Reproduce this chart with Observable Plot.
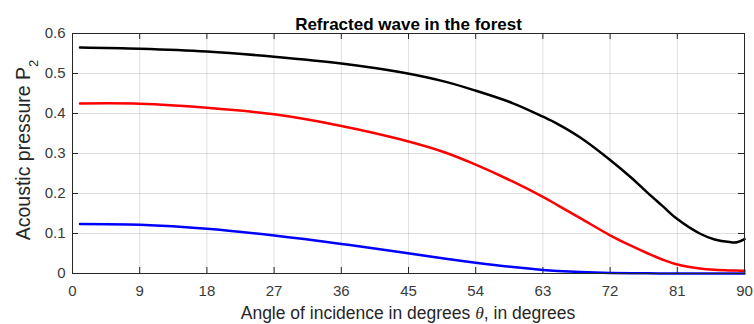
<!DOCTYPE html>
<html>
<head>
<meta charset="utf-8">
<script src="https://cdn.jsdelivr.net/npm/d3@7"></script>
<script src="https://cdn.jsdelivr.net/npm/@observablehq/plot@0.6"></script>
<style>
  html, body { margin: 0; padding: 0; background: #fff; overflow: hidden; }
</style>
</head>
<body>
<div id="chart"></div>
<script>
const title = "Refracted wave in the forest";
const xLabelParts = ["Angle of incidence in degrees ", "θ", ", in degrees"];
const yLabelParts = ["Acoustic pressure P", "2"];

const xTicks = [0, 9, 18, 27, 36, 45, 54, 63, 72, 81, 90];
const yTicks = [0, 0.1, 0.2, 0.3, 0.4, 0.5, 0.6];

const angles = [1, 9, 18, 27, 36, 44, 50, 54, 59, 63, 65, 68, 72, 75, 77, 79, 81, 84, 86, 88, 89, 90];
const blackSeries = [0.565, 0.562, 0.555, 0.542, 0.525, 0.503, 0.479, 0.457, 0.4255, 0.392, 0.3735, 0.340, 0.284, 0.237, 0.202, 0.169, 0.136, 0.100, 0.085, 0.0785, 0.078, 0.086];
const redSeries   = [0.425, 0.4245, 0.4145, 0.398, 0.369, 0.335, 0.302, 0.272, 0.2295, 0.1915, 0.1705, 0.1385, 0.0955, 0.0676, 0.0506, 0.035, 0.0226, 0.0127, 0.0091, 0.0075, 0.0072, 0.007];
const blueSeries  = [0.124, 0.122, 0.112, 0.095, 0.074, 0.053, 0.037, 0.027, 0.016, 0.009, 0.0065, 0.0038, 0.0015, 0.0007, 0.0004, 0.0002, 0.0001, 0, 0, 0, 0, 0];

const series = [
  {values: blackSeries, color: "#000000"},
  {values: redSeries, color: "#ff0000"},
  {values: blueSeries, color: "#0000ff"}
];

const W = 754, H = 324;
const mL = 72, mR = 10, mT = 33, mB = 51;
const innerW = W - mL - mR, innerH = H - mT - mB;
const tickLen = 6;
const axisColor = "#262626";
const fontFamily = "'Liberation Sans', Arial, Helvetica, sans-serif";

const lineMarks = series.map(s =>
  Plot.line(angles.map((a, i) => ({a, v: s.values[i]})), {
    x: "a", y: "v", stroke: s.color, strokeWidth: 2.5, curve: "catmull-rom"
  })
);

const chart = Plot.plot({
  width: W, height: H,
  marginLeft: mL, marginRight: mR, marginTop: mT, marginBottom: mB,
  style: {fontFamily, fontSize: "15px", color: "#333", background: "#fff"},
  x: {domain: [0, 90], label: null},
  y: {domain: [0, 0.6], label: null},
  marks: [
    Plot.gridX(xTicks, {stroke: axisColor, strokeOpacity: 0.15}),
    Plot.gridY(yTicks, {stroke: axisColor, strokeOpacity: 0.15}),
    Plot.axisX(xTicks, {tickSize: 0, tickPadding: 12, tickFormat: d => String(d), fontSize: 15, fill: "#3a3a3a"}),
    Plot.axisY(yTicks, {tickSize: 0, tickPadding: 7, tickFormat: d => d === 0 ? "0" : d.toFixed(1), fontSize: 15, fill: "#3a3a3a"}),
    Plot.ruleX(xTicks, {x: d => d, insetTop: innerH - tickLen, stroke: axisColor}),
    Plot.ruleX(xTicks, {x: d => d, insetBottom: innerH - tickLen, stroke: axisColor}),
    Plot.ruleY(yTicks, {y: d => d, insetRight: innerW - tickLen, stroke: axisColor}),
    Plot.ruleY(yTicks, {y: d => d, insetLeft: innerW - tickLen, stroke: axisColor}),
    ...lineMarks,
    Plot.frame({stroke: axisColor, strokeWidth: 1}),
    Plot.text([title], {frameAnchor: "top", dy: -16, fontWeight: "bold", fontSize: 17, fill: "#000"})
  ]
});

const svg = d3.select(chart);
// x-axis label
const xl = svg.append("text")
  .attr("x", mL + innerW / 2).attr("y", 319)
  .attr("text-anchor", "middle")
  .attr("font-family", fontFamily).attr("font-size", 17.5).attr("fill", "#262626");
xl.append("tspan").text(xLabelParts[0]);
xl.append("tspan").text(xLabelParts[1]).attr("font-style", "italic").attr("font-family", "'Liberation Serif', 'DejaVu Serif', serif");
xl.append("tspan").text(xLabelParts[2]);

// y-axis label
const yl = svg.append("text")
  .attr("transform", `translate(30,150) rotate(-90)`)
  .attr("text-anchor", "middle")
  .attr("font-family", fontFamily).attr("font-size", 19.5).attr("fill", "#262626");
yl.append("tspan").text(yLabelParts[0]);
yl.append("tspan").text(yLabelParts[1]).attr("font-size", 13).attr("dy", 8);

document.getElementById("chart").appendChild(chart);
</script>
</body>
</html>
